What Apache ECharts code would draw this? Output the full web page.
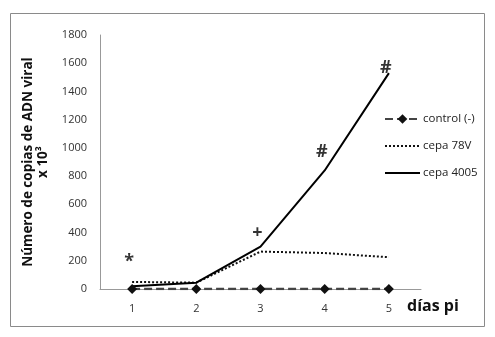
<!DOCTYPE html>
<html>
<head>
<meta charset="utf-8">
<script src="https://cdn.jsdelivr.net/npm/echarts@6/dist/echarts.min.js"></script>
<style>
  html, body { margin: 0; padding: 0; background: #fff; }
  #chart { width: 495px; height: 337px; }
</style>
</head>
<body>
<div id="chart"></div>
<script>
// days post infection
var days = ['1', '2', '3', '4', '5'];
var control = [0, 0, 0, 0, 0];
var cepa78V = [50, 45, 265, 255, 225];
var cepa4005 = [20, 45, 300, 840, 1530];
// significance marks above the points
var markDays = ['1', '3', '4', '5'];
var markValues = [195, 400, 975, 1570];
var markTexts = ['*', '+', '#', '#'];

var font = '"Open Sans", "Liberation Sans", sans-serif';

var chart = echarts.init(document.getElementById('chart'));
chart.setOption({
  animation: false,
  backgroundColor: '#fff',
  textStyle: { fontFamily: font },
  grid: { left: 100, right: 74, top: 35, bottom: 48 },
  legend: {
    orient: 'vertical',
    left: 379,
    top: 108,
    itemWidth: 35,
    itemHeight: 12,
    itemGap: 15,
    textStyle: { fontSize: 11.5, color: '#222', fontFamily: font, padding: [0, 0, 0, -2] },
    data: [
      { name: 'control (-)' },
      { name: 'cepa 78V', itemStyle: { opacity: 0 } },
      { name: 'cepa 4005', itemStyle: { opacity: 0 } }
    ]
  },
  xAxis: {
    type: 'category',
    data: days,
    axisLine: { lineStyle: { color: '#999', width: 1 } },
    axisTick: { show: false },
    axisLabel: { color: '#333', fontSize: 11, margin: 14 }
  },
  yAxis: {
    type: 'value',
    min: 0,
    max: 1800,
    interval: 200,
    name: 'Número de copias de ADN viral\nx 10³',
    nameLocation: 'middle',
    nameGap: 44,
    nameRotate: 90,
    nameTextStyle: { fontSize: 13.5, fontWeight: 'bold', color: '#111', lineHeight: 15 },
    axisLine: { show: true, lineStyle: { color: '#999', width: 1 } },
    axisTick: { show: false },
    splitLine: { show: false },
    axisLabel: { color: '#333', fontSize: 11, margin: 13, formatter: function (v) { return String(v); } }
  },
  graphic: [
    {
      type: 'rect',
      shape: { x: 10.5, y: 13.5, width: 474, height: 313 },
      style: { fill: 'none', stroke: '#8a8a8a', lineWidth: 1 },
      z: -1
    },
    {
      type: 'text',
      left: 407,
      top: 298,
      style: { text: 'días pi', fontSize: 16, fontWeight: 'bold', fill: '#111', fontFamily: font }
    }
  ],
  series: [
    {
      name: 'control (-)',
      type: 'line',
      data: control,
      symbol: 'diamond',
      symbolSize: 10,
      itemStyle: { color: '#111' },
      lineStyle: { color: '#444', width: 2.5, type: [8, 4] },
      z: 3
    },
    {
      name: 'cepa 78V',
      type: 'line',
      data: cepa78V,
      symbol: 'none',
      itemStyle: { color: '#111' },
      lineStyle: { color: '#111', width: 2, type: [2, 2] }
    },
    {
      name: 'cepa 4005',
      type: 'line',
      data: cepa4005,
      symbol: 'none',
      itemStyle: { color: '#111' },
      lineStyle: { color: '#000', width: 2 }
    },
    {
      name: 'marks',
      type: 'scatter',
      symbolSize: 0,
      silent: true,
      data: markDays.map(function (d, i) { return [d, markValues[i]]; }),
      label: {
        show: true,
        position: 'inside',
        offset: [-3, 0],
        color: '#000',
        textBorderWidth: 0,
        fontSize: 18,
        fontWeight: 'bold',
        formatter: function (p) { return markTexts[p.dataIndex]; }
      }
    }
  ]
});
</script>
</body>
</html>
